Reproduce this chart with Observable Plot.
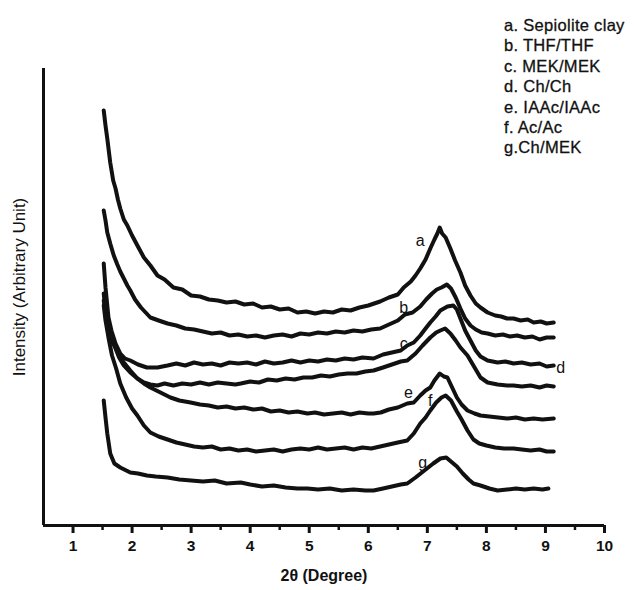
<!DOCTYPE html>
<html>
<head>
<meta charset="utf-8">
<script src="https://cdn.jsdelivr.net/npm/d3@7"></script>
<script src="https://cdn.jsdelivr.net/npm/@observablehq/plot@0.6"></script>
<style>
  html, body { margin: 0; padding: 0; background: #fff; }
  #wrap { position: relative; width: 634px; height: 590px; }
  #legend { position: absolute; left: 504px; top: 15px; font-family: "Liberation Sans", Arial, sans-serif;
            font-size: 16.5px; letter-spacing: 0.3px; color: #111; line-height: 20.4px; white-space: nowrap;
            -webkit-text-stroke: 0.3px #111; }
</style>
</head>
<body>
<div id="wrap"><div id="legend"></div></div>
<script>
// ---- data (2θ in degrees, intensity in arbitrary units) ----
const xDomain = [0.5, 10];
const yDomain = [0, 457];
const xTicks = [1, 2, 3, 4, 5, 6, 7, 8, 9, 10];
const xMinorTicks = [1.5, 2.5, 3.5, 4.5, 5.5, 6.5, 7.5, 8.5, 9.5];
const xTitle = "2θ (Degree)";
const yTitle = "Intensity (Arbitrary Unit)";
const seriesNames = ["a", "b", "c", "d", "e", "f", "g"];
const legendLabels = ["a. Sepiolite clay", "b. THF/THF", "c. MEK/MEK", "d. Ch/Ch", "e. IAAc/IAAc", "f. Ac/Ac", "g.Ch/MEK"];

const curveA = [[1.52,415],[1.55,400],[1.58,387],[1.63,363],[1.68,345],[1.72,337],[1.76,326],[1.80,317],[1.86,306],[1.92,300],
  [2.00,290],[2.09,280],[2.20,268],[2.31,260],[2.43,250],[2.55,246],[2.70,238],[2.85,236],[3.00,230],[3.15,229],[3.30,226],
  [3.45,225],[3.60,223],[3.75,224],[3.90,221],[4.05,222],[4.20,218],[4.35,219],[4.50,216],[4.65,217],[4.80,213],[4.95,214],
  [5.10,212],[5.25,214],[5.40,213],[5.55,216],[5.70,215],[5.85,218],[6.00,220],[6.10,222],[6.20,224],[6.35,228],[6.50,231],
  [6.60,238],[6.72,244],[6.80,250],[6.88,257],[6.97,266],[7.05,277],[7.12,286],[7.17,292],[7.21,298],[7.25,292],[7.31,288],
  [7.39,277],[7.47,265],[7.56,253],[7.64,240],[7.73,230],[7.82,222],[7.90,218],[8.02,213],[8.15,210],[8.25,209],[8.35,207],
  [8.46,207],[8.58,205],[8.70,206],[8.80,203],[8.92,204],[9.02,202],[9.14,203]];
const curveB = [[1.52,315],[1.55,305],[1.58,293],[1.63,282],[1.69,270],[1.75,261],[1.80,254],[1.86,247],[1.92,240],[1.97,235],
  [2.05,226],[2.15,218],[2.31,208],[2.45,205],[2.60,202],[2.75,200],[2.90,197],[3.05,196],[3.20,194],[3.35,192],[3.50,193],
  [3.65,190],[3.80,191],[3.95,189],[4.10,190],[4.25,188],[4.40,190],[4.55,191],[4.70,189],[4.85,192],[5.00,191],[5.15,193],
  [5.30,192],[5.45,194],[5.60,193],[5.75,195],[5.90,194],[6.05,196],[6.20,197],[6.35,201],[6.50,205],[6.62,211],[6.75,213],
  [6.88,219],[6.98,226],[7.08,232],[7.16,236],[7.24,238],[7.33,241],[7.40,237],[7.48,228],[7.56,217],[7.64,207],[7.73,200],
  [7.82,196],[7.92,193],[8.02,192],[8.15,190],[8.28,191],[8.40,189],[8.52,190],[8.65,188],[8.78,189],[8.90,186],[9.02,188],[9.14,188]];
const curveC = [[1.52,262],[1.55,238],[1.60,208],[1.65,195],[1.72,182],[1.80,172],[1.88,167],[1.97,165],[2.10,161],[2.25,158],
  [2.43,158],[2.60,160],[2.75,162],[2.90,160],[3.05,163],[3.20,161],[3.35,162],[3.50,160],[3.65,163],[3.80,162],[3.95,163],
  [4.10,161],[4.25,164],[4.40,162],[4.55,163],[4.70,165],[4.85,163],[5.00,165],[5.15,164],[5.30,166],[5.45,165],[5.60,167],
  [5.75,166],[5.90,168],[6.09,167],[6.25,171],[6.40,173],[6.55,175],[6.66,180],[6.77,183],[6.88,190],[6.97,197],[7.05,203],
  [7.14,209],[7.22,215],[7.34,219],[7.44,220],[7.50,216],[7.56,207],[7.64,195],[7.73,185],[7.82,175],[7.90,169],[8.02,165],
  [8.19,163],[8.32,164],[8.46,162],[8.60,163],[8.75,161],[8.90,162],[9.02,159],[9.14,160]];
const curveD = [[1.52,232],[1.55,215],[1.58,205],[1.64,190],[1.70,180],[1.78,168],[1.86,160],[1.97,153],[2.09,147],[2.20,143],
  [2.31,141],[2.43,140],[2.55,142],[2.70,140],[2.85,142],[3.00,141],[3.15,143],[3.30,141],[3.45,143],[3.60,142],[3.75,141],
  [3.84,142],[4.00,144],[4.15,143],[4.30,146],[4.45,145],[4.60,147],[4.75,146],[4.90,148],[5.05,148],[5.20,150],[5.35,149],
  [5.50,151],[5.65,152],[5.80,152],[5.95,154],[6.09,155],[6.25,158],[6.40,161],[6.55,164],[6.66,165],[6.80,172],[6.92,180],
  [7.05,188],[7.15,193],[7.22,195],[7.30,197],[7.39,192],[7.48,185],[7.56,178],[7.68,170],[7.78,160],[7.90,148],[8.02,143],
  [8.19,141],[8.35,140],[8.46,140],[8.60,139],[8.75,140],[8.90,138],[9.02,140],[9.14,139]];
const curveE = [[1.52,225],[1.55,212],[1.58,200],[1.64,186],[1.72,178],[1.80,168],[1.86,163],[1.97,155],[2.09,147],[2.20,142],
  [2.31,138],[2.48,133],[2.65,128],[2.80,125],[2.99,123],[3.15,121],[3.30,120],[3.45,118],[3.60,119],[3.75,117],[3.90,118],
  [4.05,116],[4.20,117],[4.35,114],[4.50,115],[4.65,113],[4.80,114],[4.97,112],[5.10,113],[5.25,111],[5.40,112],[5.55,113],
  [5.70,111],[5.85,113],[6.00,112],[6.09,112],[6.21,113],[6.35,116],[6.50,118],[6.66,122],[6.77,123],[6.88,130],[6.97,135],
  [7.05,138],[7.12,145],[7.21,152],[7.28,149],[7.34,148],[7.42,138],[7.50,128],[7.58,121],[7.68,115],[7.80,112],[7.90,110],
  [8.05,109],[8.20,108],[8.35,107],[8.50,108],[8.65,106],[8.80,107],[8.95,106],[9.14,107]];
const curveF = [[1.52,220],[1.55,205],[1.60,188],[1.66,170],[1.73,157],[1.80,142],[1.90,128],[2.00,117],[2.09,110],[2.20,100],
  [2.31,93],[2.45,89],[2.60,86],[2.75,83],[2.90,81],[3.05,79],[3.20,78],[3.35,79],[3.50,76],[3.65,77],[3.80,75],[3.95,76],
  [4.10,74],[4.25,75],[4.40,76],[4.55,74],[4.70,76],[4.85,77],[5.00,76],[5.15,78],[5.30,76],[5.45,77],[5.60,78],[5.75,76],
  [5.90,78],[6.05,77],[6.20,79],[6.35,81],[6.50,83],[6.66,85],[6.77,92],[6.88,102],[6.97,108],[7.05,115],[7.15,123],[7.24,128],
  [7.31,130],[7.40,125],[7.50,114],[7.58,106],[7.68,95],[7.78,86],[7.88,82],[8.00,80],[8.15,78],[8.30,77],[8.46,77],[8.60,76],
  [8.75,75],[8.90,76],[9.02,74],[9.14,74]];
const curveG = [[1.52,125],[1.55,108],[1.58,92],[1.63,72],[1.70,62],[1.80,58],[1.97,53],[2.10,52],[2.25,50],[2.40,49],[2.60,48],
  [2.80,46],[3.00,45],[3.20,44],[3.40,45],[3.60,42],[3.84,43],[4.00,41],[4.20,39],[4.40,40],[4.60,38],[4.80,37],[4.97,37],
  [5.15,36],[5.35,37],[5.55,35],[5.75,36],[5.95,35],[6.09,35],[6.25,37],[6.40,39],[6.55,41],[6.66,42],[6.80,48],[6.95,55],
  [7.10,62],[7.22,67],[7.32,68],[7.40,64],[7.50,59],[7.60,52],[7.70,46],[7.78,42],[7.90,40],[8.05,37],[8.19,35],[8.35,36],
  [8.50,37],[8.65,36],[8.80,37],[8.95,36],[9.05,37]];

// curve letter annotations (2θ, intensity)
const labelTheta = [6.88, 6.60, 6.60, 9.26, 6.68, 7.05, 6.92];
const labelIntensity = [285, 218, 182, 158, 133, 125, 63];

// ---- build tables ----
const curves = [curveA, curveB, curveC, curveD, curveE, curveF, curveG];
const rows = curves.flatMap((c, i) => c.map(([t, v]) => ({series: seriesNames[i], theta: t, intensity: v})));
const labels = seriesNames.map((s, i) => ({text: s, theta: labelTheta[i], intensity: labelIntensity[i]}));

const font = '"Liberation Sans", Arial, sans-serif';

const chart = Plot.plot({
  width: 634,
  height: 590,
  marginTop: 68,
  marginBottom: 65,
  marginLeft: 43,
  marginRight: 30,
  style: {fontFamily: font, fontSize: "15px", color: "#111", background: "transparent"},
  x: {domain: xDomain},
  y: {domain: yDomain, axis: null},
  marks: [
    Plot.line(rows, {x: "theta", y: "intensity", z: "series", stroke: "#111", strokeWidth: 4,
      strokeLinejoin: "round", strokeLinecap: "round"}),
    Plot.text(labels, {x: "theta", y: "intensity", text: "text", fontSize: 16, fill: "#111"}),
    Plot.axisX(xMinorTicks, {tickSize: 5, strokeWidth: 2.5, stroke: "#111", tickFormat: () => "", label: null}),
    Plot.axisX(xTicks, {tickSize: 8, strokeWidth: 3, stroke: "#111", tickFormat: () => "", label: null}),
    Plot.text(xTicks, {x: d => d, text: d => String(d), frameAnchor: "bottom", dy: 25, fontSize: 15.5,
      fontWeight: "bold", fill: "#111"}),
    Plot.ruleY([yDomain[0]], {stroke: "#111", strokeWidth: 3}),
    Plot.ruleX([xDomain[0]], {stroke: "#111", strokeWidth: 3}),
    Plot.text([xTitle], {frameAnchor: "bottom", dy: 55, fontSize: 16, fontWeight: "bold", fill: "#111"}),
    Plot.text([yTitle], {frameAnchor: "left", textAnchor: "middle", rotate: -90, dx: -24, dy: -10, fontSize: 17, fill: "#111"})
  ]
});

const wrap = document.getElementById("wrap");
wrap.insertBefore(chart, wrap.firstChild);
document.getElementById("legend").innerHTML = legendLabels.map(d => `<div>${d}</div>`).join("");
</script>
</body>
</html>
